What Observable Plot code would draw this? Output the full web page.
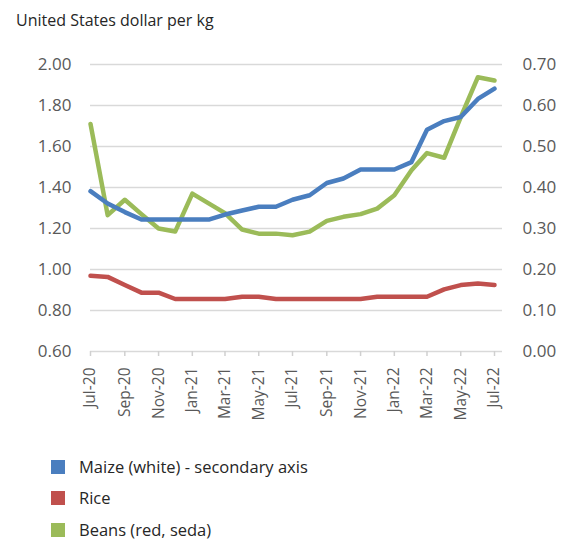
<!DOCTYPE html>
<html><head><meta charset="utf-8">
<script src="https://cdn.jsdelivr.net/npm/d3@7"></script>
<script src="https://cdn.jsdelivr.net/npm/@observablehq/plot@0.6"></script>
<style>
body{margin:0;background:#fff;font-family:"Open Sans",sans-serif;}
#wrap{position:relative;width:570px;height:543px;overflow:hidden;}
#title{position:absolute;left:16px;top:9px;font-size:16px;color:#262626;}
#chart{position:absolute;left:0;top:0;}
#legend{position:absolute;left:51px;top:451px;}
.item{display:flex;align-items:center;height:31.5px;font-size:16.5px;line-height:20px;color:#262626}
.sw{width:14px;height:14px;margin-right:14px;flex:none}
</style></head>
<body>
<div id="wrap">
  <div id="chart"></div>
  <div id="title">United States dollar per kg</div>
  <div id="legend"></div>
</div>
<script>
const months = ["2020-07","2020-08","2020-09","2020-10","2020-11","2020-12","2021-01","2021-02","2021-03","2021-04","2021-05","2021-06","2021-07","2021-08","2021-09","2021-10","2021-11","2021-12","2022-01","2022-02","2022-03","2022-04","2022-05","2022-06","2022-07"];
const maize = [0.391,0.361,0.340,0.322,0.322,0.322,0.322,0.322,0.334,0.344,0.353,0.353,0.370,0.381,0.411,0.422,0.444,0.444,0.444,0.462,0.541,0.562,0.572,0.616,0.641];
const rice  = [0.969,0.964,0.924,0.887,0.887,0.856,0.856,0.856,0.856,0.867,0.867,0.856,0.856,0.856,0.856,0.856,0.856,0.867,0.867,0.867,0.867,0.903,0.924,0.932,0.924];
const beans = [1.710,1.265,1.340,1.270,1.200,1.185,1.370,1.320,1.275,1.195,1.175,1.175,1.167,1.185,1.237,1.257,1.270,1.297,1.362,1.484,1.568,1.545,1.743,1.938,1.922];
const seriesNames = ["Maize (white) - secondary axis","Rice","Beans (red, seda)"];
const seriesColors = ["#4a7ebf","#c0504d","#9bbb59"];
const yTicks = [0.6,0.8,1.0,1.2,1.4,1.6,1.8,2.0];
const xTickMonths = ["2020-07","2020-09","2020-11","2021-01","2021-03","2021-05","2021-07","2021-09","2021-11","2022-01","2022-03","2022-05","2022-07"];

const parse = d3.utcParse("%Y-%m");
const dates = months.map(parse);
const xTicks = xTickMonths.map(parse);
// secondary axis 0.00–0.70 maps onto primary 0.60–2.00
const toPrimary = v => 0.6 + v * 2;
const toSecondary = p => (p - 0.6) / 2;

const rows = [];
dates.forEach((d, i) => {
  rows.push({date: d, value: toPrimary(maize[i]), series: seriesNames[0]});
  rows.push({date: d, value: rice[i], series: seriesNames[1]});
  rows.push({date: d, value: beans[i], series: seriesNames[2]});
});

const chart = Plot.plot({
  width: 570,
  height: 440,
  marginTop: 64,
  marginBottom: 89,
  marginLeft: 90,
  marginRight: 68,
  style: {fontFamily: "Open Sans, sans-serif", fontSize: "16px", color: "#595959", background: "transparent"},
  x: {type: "utc", domain: [dates[0], dates[dates.length - 1]], range: [90, 494]},
  y: {domain: [0.6, 2.0]},
  color: {domain: seriesNames, range: seriesColors},
  marks: [
    Plot.gridY(yTicks, {stroke: "#d9d9d9", strokeOpacity: 1, strokeWidth: 1.5}),
    Plot.axisY(yTicks, {anchor: "left", tickSize: 0, tickPadding: 19, tickFormat: d => d.toFixed(2), label: null, fontSize: 17, fill: "#595959"}),
    Plot.axisY(yTicks, {anchor: "right", tickSize: 0, tickPadding: 20, tickFormat: d => toSecondary(d).toFixed(2), label: null, fontSize: 17, fill: "#595959"}),
    Plot.axisX(xTicks, {anchor: "bottom", tickSize: 5, tickPadding: 11, tickRotate: -90, tickFormat: d3.utcFormat("%b-%y"), label: null, fontSize: 15.5, stroke: "#d0d0d0", strokeWidth: 1.5, fill: "#595959"}),
    Plot.lineY(rows.filter(r => r.series === seriesNames[1]), {x: "date", y: "value", stroke: "series", strokeWidth: 4.5}),
    Plot.lineY(rows.filter(r => r.series === seriesNames[2]), {x: "date", y: "value", stroke: "series", strokeWidth: 4.5}),
    Plot.lineY(rows.filter(r => r.series === seriesNames[0]), {x: "date", y: "value", stroke: "series", strokeWidth: 4.5})
  ]
});
document.getElementById("chart").appendChild(chart);

const legend = document.getElementById("legend");
seriesNames.forEach((name, i) => {
  const item = document.createElement("div");
  item.className = "item";
  const sw = document.createElement("span");
  sw.className = "sw";
  sw.style.background = seriesColors[i];
  const t = document.createElement("span");
  t.textContent = name;
  item.appendChild(sw);
  item.appendChild(t);
  legend.appendChild(item);
});
</script>
</body></html>
